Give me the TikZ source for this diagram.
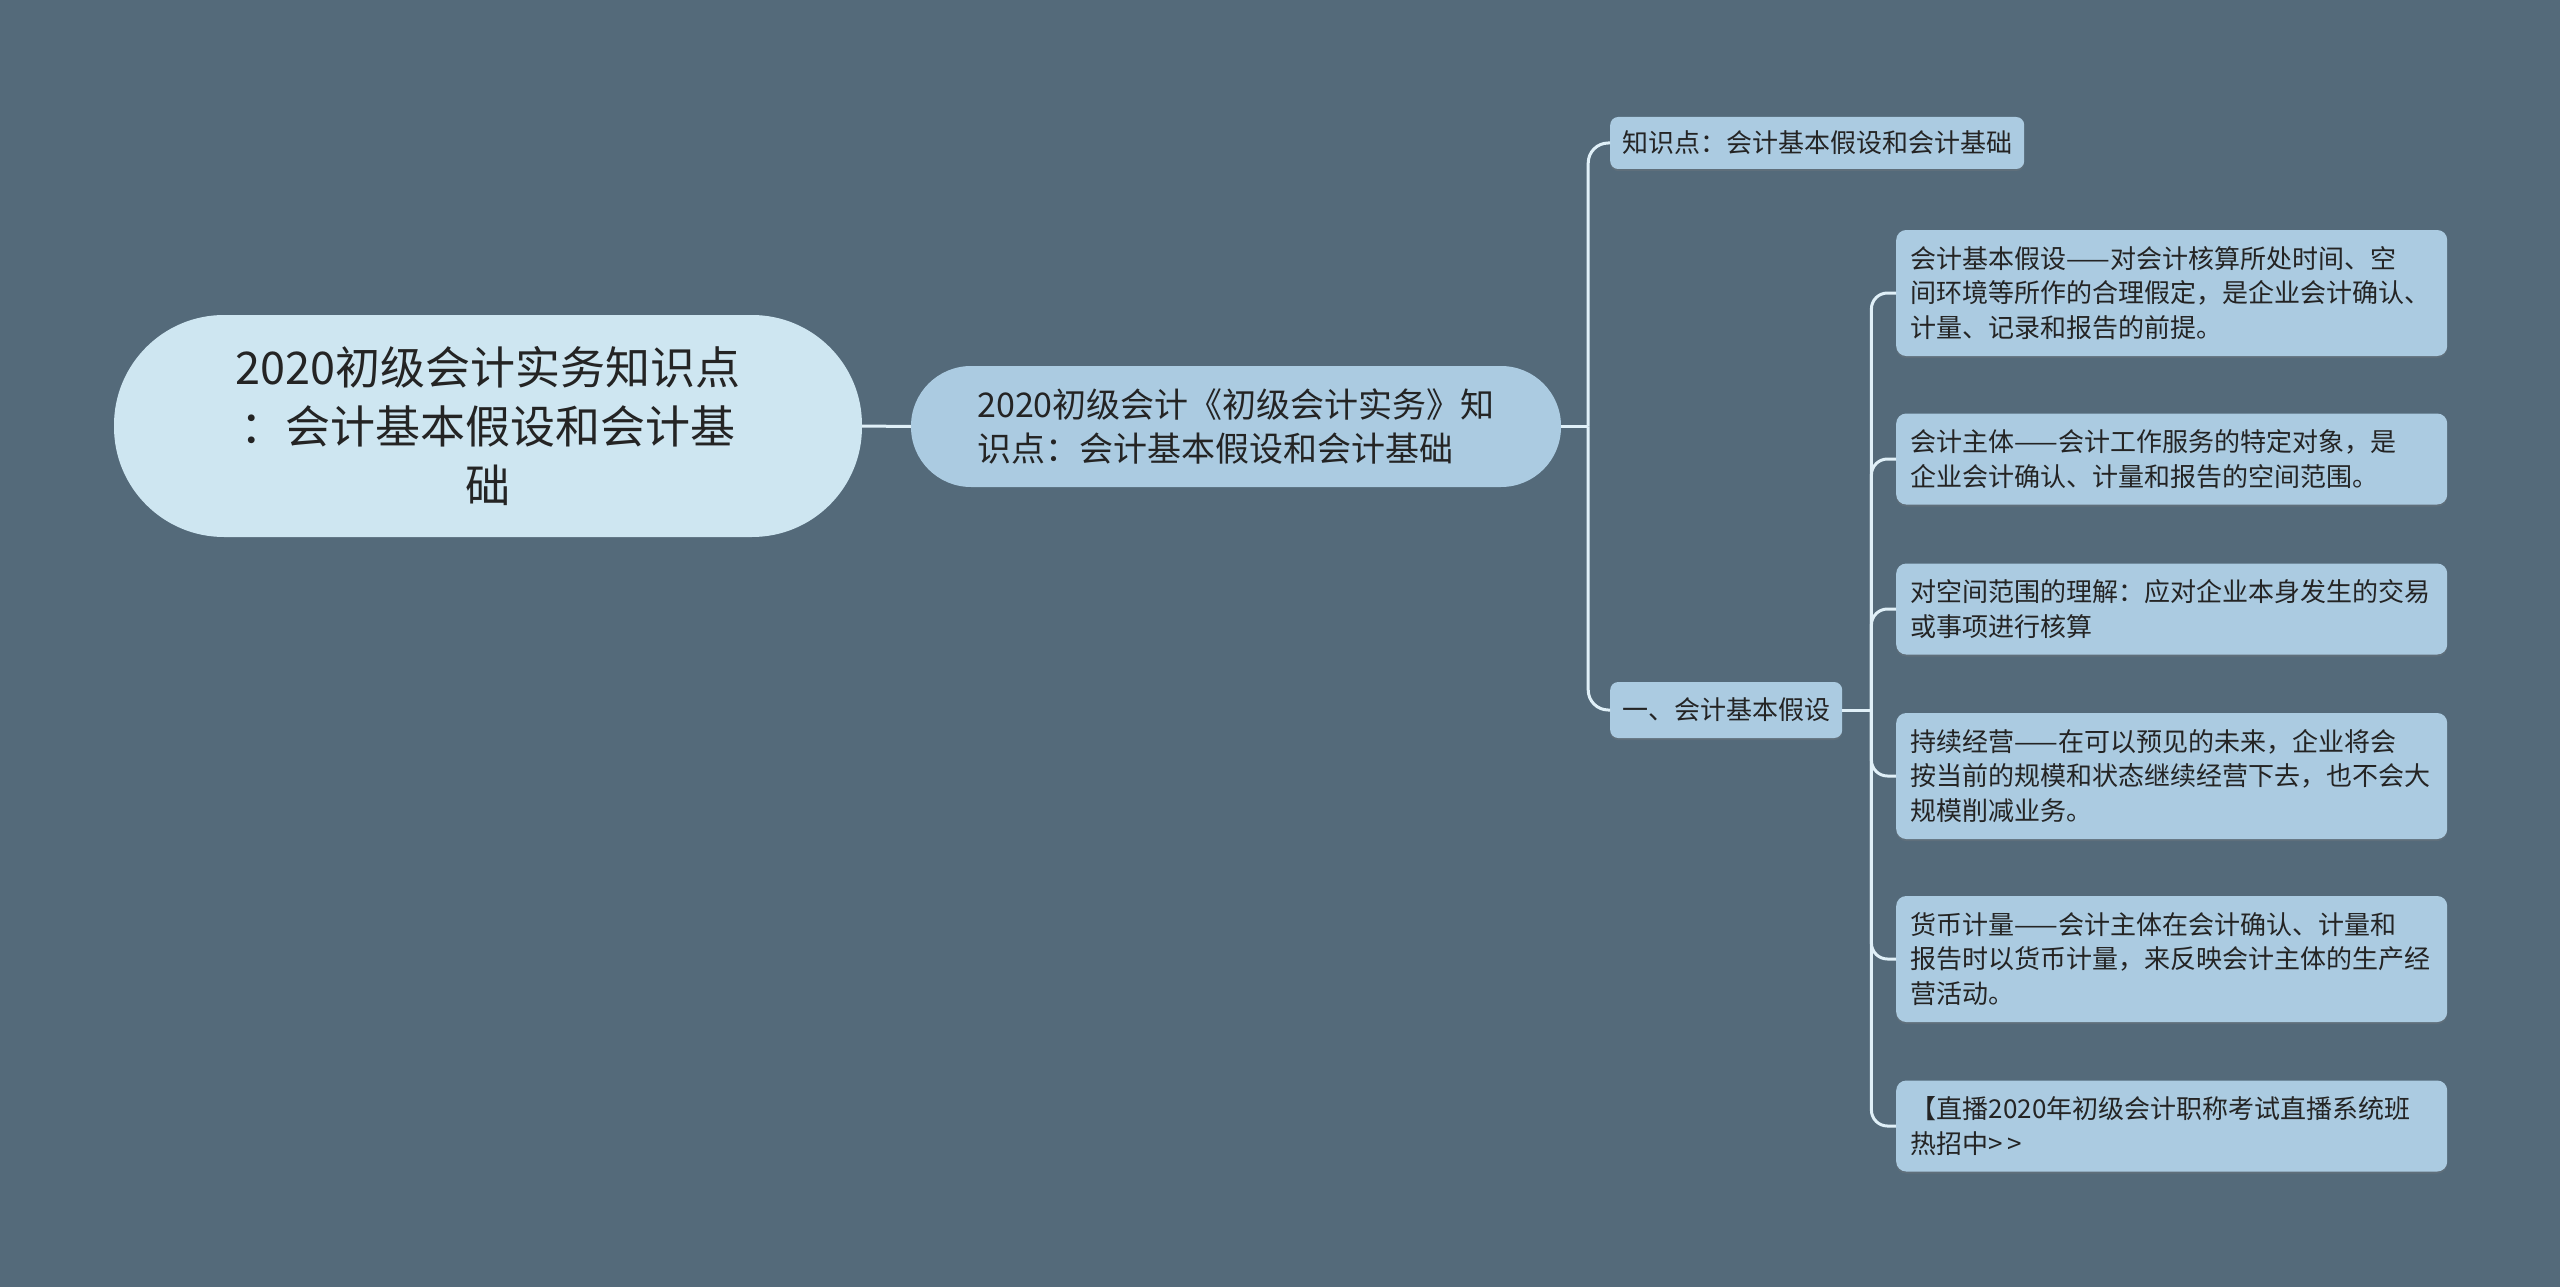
\documentclass[tikz,border=0pt]{standalone}
\usepackage{fontspec}
\setmainfont{Noto Sans CJK SC}
\usetikzlibrary{positioning,calc,shadows}
\definecolor{slatebg}{RGB}{84,106,122}
\definecolor{rootfill}{RGB}{206,230,241}
\definecolor{nodefill}{RGB}{171,203,225}
\definecolor{linkline}{RGB}{224,240,248}
\definecolor{ink}{RGB}{36,36,36}

\begin{document}
\begin{tikzpicture}[
  x=1pt, y=-1pt,
  link/.style={line width=3pt, linkline},
  rootnode/.style={fill=rootfill, rounded corners=110pt, minimum width=748pt, minimum height=222pt,
    align=center, text=ink, font={\fontsize{45pt}{59pt}\selectfont}},
  topicnode/.style={fill=nodefill, rounded corners=60pt, minimum width=650pt, minimum height=121pt,
    align=left, text=ink, font={\fontsize{34pt}{44pt}\selectfont}},
  subnode/.style={fill=nodefill, rounded corners=8pt, anchor=west, inner xsep=12pt, minimum height=52pt,
    text=ink, font={\fontsize{26pt}{34.5pt}\selectfont},
    drop shadow={shadow xshift=0pt, shadow yshift=-2pt, opacity=0.25}},
  leafnode/.style={fill=nodefill, rounded corners=10pt, anchor=west, inner xsep=14.5pt, text width=522pt,
    align=left, text=ink, font={\fontsize{26pt}{34.5pt}\selectfont},
    drop shadow={shadow xshift=0pt, shadow yshift=-2pt, opacity=0.25}}
]

% Background
\fill[slatebg] (0,0) rectangle (2560,1287);

% Central topic
\node[rootnode] (root) at (488,426) {2020初级会计实务知识点\\：会计基本假设和会计基\\础};

% Main branch
\node[topicnode] (mid) at (1236,426.5) {2020初级会计《初级会计实务》知\\识点：会计基本假设和会计基础};

% Sub topics
\node[subnode] (point) at (1610,143) {知识点：会计基本假设和会计基础};
\node[subnode, minimum height=56pt] (basic) at (1610,710) {一、会计基本假设};

% Leaves of the basic assumptions
\node[leafnode, minimum height=126pt] (assume) at (1896,293) {会计基本假设——对会计核算所处时间、空\\间环境等所作的合理假定，是企业会计确认、\\计量、记录和报告的前提。};
\node[leafnode, minimum height=91pt] (entity) at (1896,459) {会计主体——会计工作服务的特定对象，是\\企业会计确认、计量和报告的空间范围。};
\node[leafnode, minimum height=91pt] (space) at (1896,609) {对空间范围的理解：应对企业本身发生的交易\\或事项进行核算};
\node[leafnode, minimum height=126pt] (going) at (1896,776) {持续经营——在可以预见的未来，企业将会\\按当前的规模和状态继续经营下去，也不会大\\规模削减业务。};
\node[leafnode, minimum height=126pt] (money) at (1896,959) {货币计量——会计主体在会计确认、计量和\\报告时以货币计量，来反映会计主体的生产经\\营活动。};
\node[leafnode, minimum height=91pt] (live) at (1896,1126) {【直播2020年初级会计职称考试直播系统班\\热招中>\kern0.15em>};

% Connectors
\draw[link] (root.east) -- (mid.west);

\coordinate (j1) at ($(mid.east)+(27,0)$);
\draw[link] (mid.east) -- (j1);
\foreach \n in {point,basic}
  \draw[link, rounded corners=20pt] (j1) |- (\n.west);

\coordinate (j2) at ($(basic.east)+(29,0)$);
\draw[link] (basic.east) -- (j2);
\foreach \n in {assume,entity,space,going,money,live}
  \draw[link, rounded corners=16pt] (j2) |- (\n.west);

\end{tikzpicture}
\end{document}
